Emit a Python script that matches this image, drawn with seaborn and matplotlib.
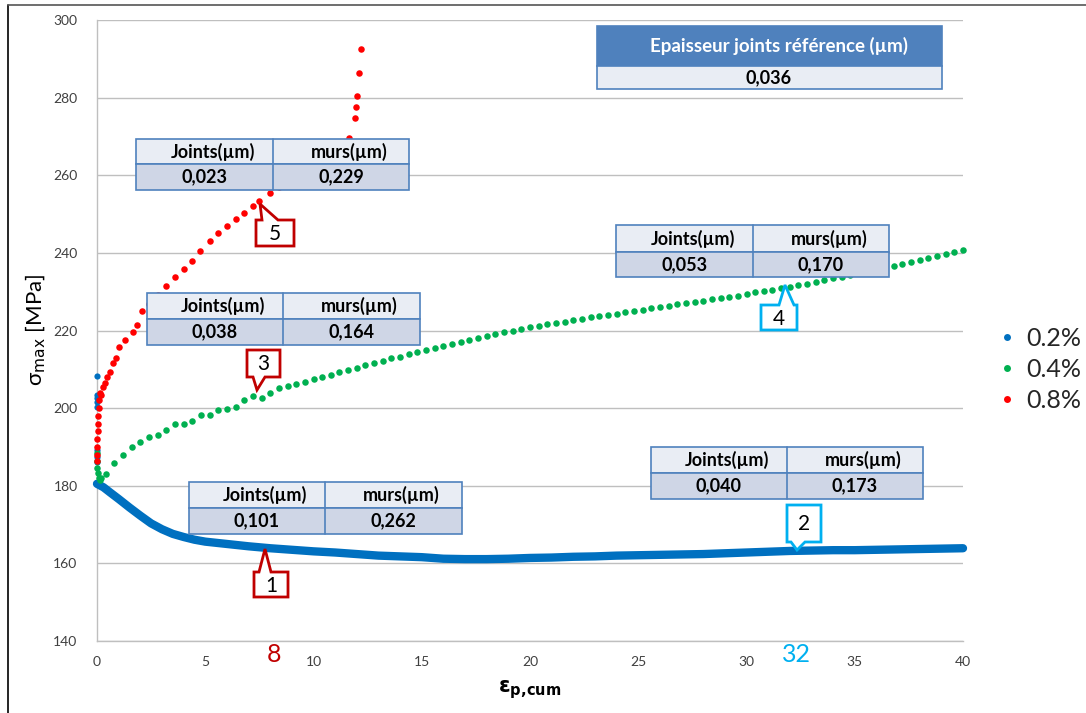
import numpy as np
import pandas as pd
import matplotlib
matplotlib.use("Agg")
import matplotlib.pyplot as plt
from matplotlib.patches import Rectangle, Polygon
from matplotlib.lines import Line2D
import seaborn as sns

# ---- data -------------------------------------------------------------
# 0.2 % amplitude: scattered start-up points then the dense softening curve
blue_start_x = [0, 0, 0, 0, 0, 0, 0, 0]
blue_start_y = [208.3, 203.4, 202.5, 201.5, 200.4, 189.2, 187.3, 186.0]
blue_x = [0.0, 0.3, 0.6, 1.0, 1.5, 2.0, 2.5, 3.0, 3.5, 4.0, 4.5, 5.0, 6.0, 7.0,
          8.0, 9.0, 10.0, 11.0, 12.0, 13.0, 14.0, 15.0, 16.0, 17.0, 18.0, 19.0,
          20.0, 21.0, 22.0, 23.0, 24.0, 25.0, 26.0, 27.0, 28.0, 29.0, 30.0,
          31.0, 32.0, 33.0, 34.0, 35.0, 36.0, 37.0, 38.0, 39.0, 40.0]
blue_y = [180.5, 179.6, 178.3, 176.6, 174.4, 172.3, 170.3, 168.8, 167.6, 166.8,
          166.1, 165.6, 165.0, 164.4, 163.9, 163.5, 163.1, 162.8, 162.4, 162.0,
          161.8, 161.6, 161.2, 161.1, 161.1, 161.2, 161.4, 161.5, 161.7, 161.8,
          162.0, 162.1, 162.2, 162.3, 162.4, 162.6, 162.8, 163.0, 163.2, 163.3,
          163.4, 163.4, 163.5, 163.6, 163.7, 163.8, 163.9]

# 0.4 % amplitude
green_x = [0, 0, 0, 0.05, 0.1, 0.15, 0.2,
           0.4, 0.8, 1.2, 1.6, 2.0, 2.4, 2.8, 3.2, 3.6, 4.0, 4.4, 4.8, 5.2, 5.6,
           6.0, 6.4, 6.8, 7.2, 7.6, 8.0, 8.4, 8.8, 9.2, 9.6, 10.0, 10.4, 10.8,
           11.2, 11.6, 12.0, 12.4, 12.8, 13.2, 13.6, 14.0, 14.4, 14.8, 15.2,
           15.6, 16.0, 16.4, 16.8, 17.2, 17.6, 18.0, 18.4, 18.8, 19.2, 19.6,
           20.0, 20.4, 20.8, 21.2, 21.6, 22.0, 22.4, 22.8, 23.2, 23.6, 24.0,
           24.4, 24.8, 25.2, 25.6, 26.0, 26.4, 26.8, 27.2, 27.6, 28.0, 28.4,
           28.8, 29.2, 29.6, 30.0, 30.4, 30.8, 31.2, 31.6, 32.0, 32.4, 32.8,
           33.2, 33.6, 34.0, 34.4, 34.8, 35.2, 35.6, 36.0, 36.4, 36.8, 37.2,
           37.6, 38.0, 38.4, 38.8, 39.2, 39.6, 40.0]
green_y = [188.4, 186.5, 184.5, 183.2, 182.0, 181.5, 182.0,
           183.0, 185.9, 188.0, 190.0, 191.4, 192.5, 193.0, 194.4, 196.0, 195.8,
           196.6, 198.2, 198.3, 199.5, 199.7, 200.4, 202.1, 203.0, 202.6, 203.8,
           205.1, 205.6, 206.2, 206.8, 207.4, 208.0, 208.5, 209.3, 209.8, 210.4,
           211.0, 211.6, 212.2, 212.8, 213.3, 213.9, 214.5, 215.0, 215.6, 216.1,
           216.6, 217.1, 217.6, 218.1, 218.6, 219.1, 219.5, 220.0, 220.4, 220.8,
           221.2, 221.6, 222.0, 222.3, 222.7, 223.0, 223.4, 223.7, 224.0, 224.3,
           224.7, 225.0, 225.3, 225.7, 226.0, 226.3, 226.7, 227.0, 227.3, 227.6,
           228.0, 228.3, 228.7, 229.0, 229.4, 229.8, 230.1, 230.5, 230.9, 231.3,
           231.7, 232.1, 232.6, 233.0, 233.5, 233.9, 234.4, 234.8, 235.3, 235.7,
           236.2, 236.6, 237.1, 237.6, 238.1, 238.6, 239.1, 239.6, 240.1, 240.8]

# 0.8 % amplitude
red_x = [0, 0, 0, 0.02, 0.03, 0.05, 0.05, 0.08, 0.1, 0.12,
         0.2, 0.3, 0.37, 0.45, 0.6, 0.75, 0.9, 1.03, 1.3, 1.67, 1.85, 2.06,
         2.4, 2.8, 3.2, 3.6, 4.0, 4.4, 4.75, 5.2, 5.6, 6.0, 6.4, 6.8, 7.2,
         7.5, 8.0, 8.4, 8.8, 9.2, 9.6, 10.0, 10.4, 10.8, 11.2, 11.62, 11.9,
         11.96, 12.02, 12.12, 12.18]
red_y = [186.5, 188.0, 190.0, 192.0, 194.0, 196.0, 198.0, 200.0, 202.0, 204.0,
         203.5, 205.5, 206.5, 208.0, 209.4, 211.6, 213.0, 215.8, 217.5, 219.6,
         221.5, 224.9, 226.8, 229.2, 231.5, 233.7, 235.8, 237.8, 240.5, 243.0,
         245.0, 247.0, 248.6, 250.3, 252.0, 253.4, 255.4, 257.0, 258.5, 260.0,
         261.5, 263.0, 264.5, 266.0, 267.7, 269.5, 274.8, 277.5, 280.5, 286.3,
         292.4]

series_labels = ["0.2%", "0.4%", "0.8%"]
series_colors = ["#0070C0", "#00B050", "#FF0000"]

ref_title = "Epaisseur joints référence (µm)"
ref_value = "0,036"
col_headers = ["Joints(µm)", "murs(µm)"]
# (joints, murs) thickness pairs for the five marked points
joint_values = ["0,101", "0,040", "0,038", "0,053", "0,023"]
mur_values = ["0,262", "0,173", "0,164", "0,170", "0,229"]
marker_numbers = ["1", "2", "3", "4", "5"]
cycle_marks = ["8", "32"]

y_ticks = [140, 160, 180, 200, 220, 240, 260, 280, 300]
x_ticks = [0, 5, 10, 15, 20, 25, 30, 35, 40]

# ---- figure ------------------------------------------------------------
W, H = 1086, 713
sns.set_theme(style="white")
plt.rcParams["font.family"] = ["Lato", "DejaVu Sans"]
fig = plt.figure(figsize=(W / 100, H / 100), dpi=100)
ax = fig.add_axes([97 / W, 1 - 641 / H, (963 - 97) / W, (641 - 20) / H])

df_blue_line = pd.DataFrame({"x": blue_x, "y": blue_y})
sns.lineplot(data=df_blue_line, x="x", y="y", ax=ax, color=series_colors[0],
             linewidth=6.0, sort=False, zorder=3, clip_on=False)
sns.scatterplot(x=blue_start_x, y=blue_start_y, ax=ax, color=series_colors[0],
                s=20, linewidth=0, zorder=3, clip_on=False)
sns.scatterplot(x=green_x, y=green_y, ax=ax, color=series_colors[1],
                s=22, linewidth=0, zorder=4, clip_on=False)
sns.scatterplot(x=red_x, y=red_y, ax=ax, color=series_colors[2],
                s=22, linewidth=0, zorder=5, clip_on=False)

ax.set_xlim(0, 40)
ax.set_ylim(140, 300)
ax.set_xticks(x_ticks)
ax.set_yticks(y_ticks)
ax.yaxis.grid(True, color="#BFBFBF", linewidth=1.0)
ax.set_axisbelow(True)
for side in ["top", "right"]:
    ax.spines[side].set_visible(False)
for side in ["left", "bottom"]:
    ax.spines[side].set_color("#BFBFBF")
    ax.spines[side].set_linewidth(1.0)
ax.tick_params(axis="both", direction="out", length=4, width=1,
               color="#BFBFBF", labelsize=10, labelcolor="#404040")
ax.tick_params(axis="y", pad=10)
ax.tick_params(axis="x", pad=7)
ax.set_xlabel("")
ax.set_ylabel("")

fig.text(36 / W, 1 - 330 / H, "σ$_{\\mathrm{max}}$ [MPa]", rotation=90,
         ha="center", va="center", fontsize=16, color="#000000")
fig.text(530 / W, 1 - 690 / H, r"$\mathbf{\varepsilon_{p,\!cum}}$",
         ha="center", va="center", fontsize=15, color="#000000")

# ---- helpers in pixel coordinates -------------------------------------
def fx(px):
    return px / W


def fy(py):
    return 1 - py / H


def box(x0, y0, x1, y1, face, edge, lw=1.2, z=6):
    fig.add_artist(Rectangle((fx(x0), fy(y1)), fx(x1) - fx(x0), fy(y0) - fy(y1),
                             transform=fig.transFigure, facecolor=face,
                             edgecolor=edge, linewidth=lw, zorder=z))


def thickness_table(x0, y0, x1, y1, xm, ym, joints, murs):
    edge = "#4F81BD"
    box(x0, y0, x1, ym, "#E9EDF4", edge)
    box(x0, ym, x1, y1, "#CFD6E6", edge)
    fig.add_artist(Line2D([fx(xm), fx(xm)], [fy(y0), fy(y1)],
                          transform=fig.transFigure, color=edge, lw=1.2, zorder=7))
    cx1 = (x0 + xm) / 2 + 8
    cx2 = (xm + x1) / 2 + 8
    for cx, head, val in [(cx1, col_headers[0], joints), (cx2, col_headers[1], murs)]:
        fig.text(fx(cx), fy((y0 + ym) / 2), head, ha="center", va="center",
                 fontsize=13, fontweight="bold", color="#000000", zorder=8)
        fig.text(fx(cx - 8), fy((ym + y1) / 2), val, ha="center", va="center",
                 fontsize=13, fontweight="bold", color="#000000", zorder=8)


def callout(l, t, r, b, tip, base, edge, label, up=True):
    if up:
        pts = [(l, t), (base[0], t), tip, (base[1], t), (r, t), (r, b), (l, b)]
    else:
        pts = [(l, t), (r, t), (r, b), (base[1], b), tip, (base[0], b), (l, b)]
    fig.add_artist(Polygon([(fx(px), fy(py)) for px, py in pts], closed=True,
                           transform=fig.transFigure, facecolor="white",
                           edgecolor=edge, linewidth=2.0, zorder=9))
    fig.text(fx((l + r) / 2), fy((t + b) / 2 + 1), label, ha="center",
             va="center", fontsize=15, color="#000000", zorder=10)


# reference thickness header table
box(597, 26, 942, 66, "#4F81BD", "#4F81BD")
box(597, 66, 942, 89, "#E9EDF4", "#4F81BD")
fig.text(fx(779), fy(46), ref_title, ha="center", va="center", fontsize=13.5,
         fontweight="bold", color="white", zorder=8)
fig.text(fx(769), fy(77.5), ref_value, ha="center", va="center", fontsize=13,
         fontweight="bold", color="#000000", zorder=8)

# thickness tables next to each marked point
thickness_table(189, 482, 462, 534, 325, 508, joint_values[0], mur_values[0])
thickness_table(651, 447, 923, 499, 787, 473, joint_values[1], mur_values[1])
thickness_table(147, 293, 420, 345, 283, 319, joint_values[2], mur_values[2])
thickness_table(616, 225, 889, 277, 753, 252, joint_values[3], mur_values[3])
thickness_table(136, 139, 409, 190, 273, 164, joint_values[4], mur_values[4])

# numbered callouts
dark_red = "#C00000"
light_blue = "#00B0F0"
callout(254, 572, 288, 597, (265, 549), (259, 271), dark_red, marker_numbers[0], up=True)
callout(787, 505, 821, 542, (797, 550), (791, 805), light_blue, marker_numbers[1], up=False)
callout(247, 350, 280, 377, (257, 390), (253, 265), dark_red, marker_numbers[2], up=False)
callout(761, 305, 797, 330, (785, 285), (779, 794), light_blue, marker_numbers[3], up=True)
callout(256, 220, 294, 246, (260, 204), (262, 278), dark_red, marker_numbers[4], up=True)

# cycle counts under the axis
fig.text(fx(274), fy(654), cycle_marks[0], ha="center", va="center",
         fontsize=18, color=dark_red)
fig.text(fx(796), fy(654), cycle_marks[1], ha="center", va="center",
         fontsize=18, color=light_blue)

# legend
handles = [Line2D([], [], linestyle="none", marker="o", markersize=5,
                  markerfacecolor=c, markeredgewidth=0) for c in series_colors]
fig.legend(handles, series_labels, loc="upper left",
           bbox_to_anchor=(fx(984), fy(317)), frameon=False, fontsize=18,
           handletextpad=0.3, handlelength=1.0, labelspacing=0.32,
           borderaxespad=0)

# outer frame (left and top edges)
fig.add_artist(Line2D([fx(8), fx(8)], [fy(5), 0], transform=fig.transFigure,
                      color="#000000", lw=1.2))
fig.add_artist(Line2D([fx(8), 1], [fy(5), fy(5)], transform=fig.transFigure,
                      color="#555555", lw=1.2))

fig.savefig("out.png", dpi=100)
